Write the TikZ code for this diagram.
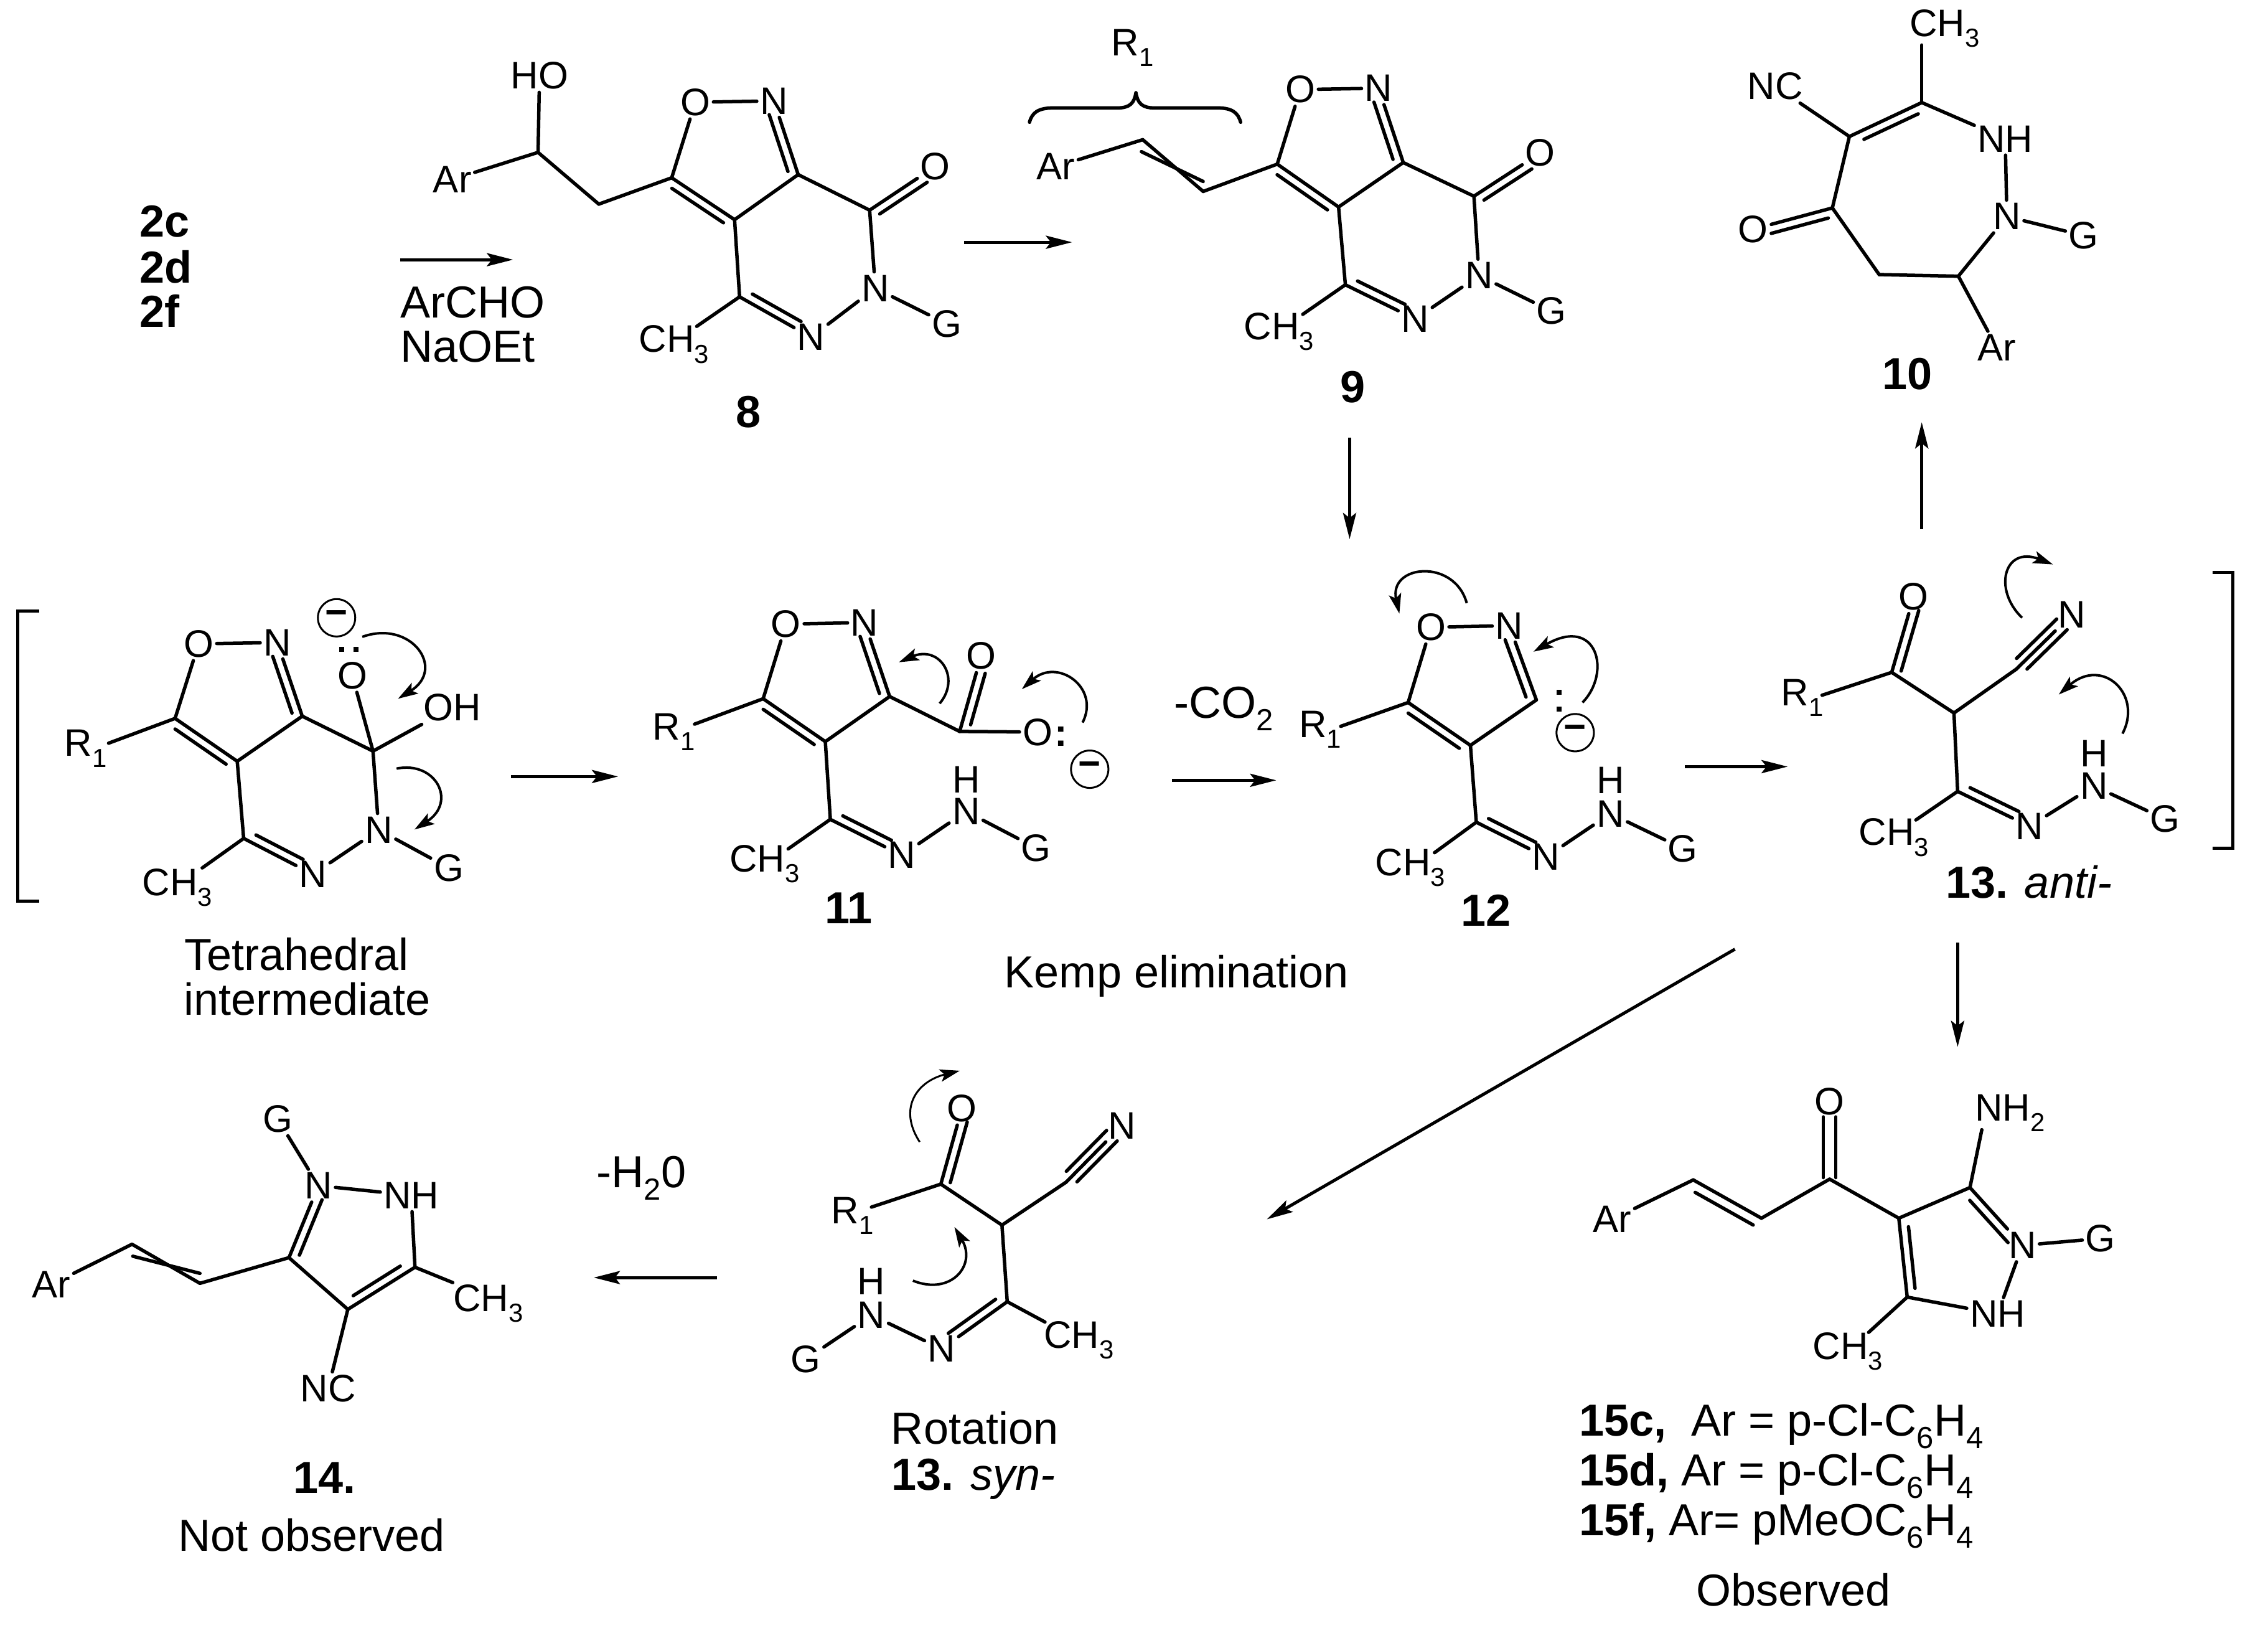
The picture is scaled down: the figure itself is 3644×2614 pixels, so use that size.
\documentclass[tikz,border=0pt]{standalone}
\usepackage{graphicx}
\usepackage{fontspec}
\setmainfont{Liberation Sans}
\usetikzlibrary{calc,arrows.meta}
\newcommand{\dn}[1]{\raisebox{-0.28em}{\scalebox{0.68}{#1}}}
\newcommand{\dbl}[5]{\draw[bond] (#1)--(#2);
 \draw[bond] ($(#1)!#4!(#2)!0.14cm!#3:(#2)$)--($(#1)!#5!(#2)!0.14cm!#3:(#2)$);}
\newcommand{\dblc}[5]{\draw[bond] (#1)--(#2);
 \draw[bond] ($(#1)!#4!(#2)!0.16cm!#3:(#2)$)--($(#1)!#5!(#2)!0.16cm!#3:(#2)$);}
\newcommand{\dsym}[4]{%
 \draw[bond] ($(#1)!#3!(#2)!0.1cm!90:(#2)$)--($(#1)!#4!(#2)!0.1cm!90:(#2)$);
 \draw[bond] ($(#1)!#3!(#2)!0.1cm!-90:(#2)$)--($(#1)!#4!(#2)!0.1cm!-90:(#2)$);}
\newcommand{\tpl}[2]{\draw[bond] (#1)--(#2);
 \draw[bond] ($(#1)!.1!(#2)!0.12cm!90:(#2)$)--($(#1)!.82!(#2)!0.12cm!90:(#2)$);
 \draw[bond] ($(#1)!.1!(#2)!0.12cm!-90:(#2)$)--($(#1)!.82!(#2)!0.12cm!-90:(#2)$);}
\tikzset{
 bond/.style={line width=.055cm,line cap=round,line join=round},
 atom/.style={inner sep=.045cm,font=\fontsize{17.5}{20}\selectfont},
 lab/.style={inner sep=0pt,font=\fontsize{20.5}{24}\selectfont},
 blab/.style={inner sep=0pt,font=\fontsize{20.5}{24}\selectfont\bfseries},
 rxn/.style={line width=.05cm,-{Stealth[length=.42cm,width=.21cm,inset=.08cm]}},
 curly/.style={line width=.04cm,-{Stealth[length=.32cm,width=.2cm,inset=.07cm]}},
 neg/.style={circle,draw,line width=.03cm,minimum size=.6cm,inner sep=0pt,font=\fontsize{17.6}{20}\selectfont\bfseries},
 dotm/.style={rectangle,fill=black,inner sep=0pt,minimum size=.08cm},
 zA/.style={x=.01148cm,y=-.0051cm},
 zB/.style={x=.01367cm,y=-.0051cm,shift={(15cm,0cm)}},
 zC/.style={x=.01148cm,y=-.0051cm,shift={(0cm,-9cm)}},
 zD/.style={x=.01176cm,y=-.0051cm,shift={(18cm,-8.5cm)}},
 zE/.style={x=.01212cm,y=-.00615cm,shift={(0cm,-16.5cm)}},
 zF/.style={x=.00793cm,y=-.00615cm,shift={(24cm,-16.5cm)}},
}
\begin{document}
\begin{tikzpicture}[x=.01cm,y=-.01cm]
\useasboundingbox[fill=white] (0,0) rectangle (3644,2614);
% ---------- top left
\begin{scope}[zA]
\node[blab,anchor=west] (l2c) at (195,697) {2c};
\node[blab,anchor=west] (l2d) at (195,840) {2d};
\node[blab,anchor=west] (l2f) at (195,980) {2f};
\coordinate (a1s) at (560,818); \coordinate (a1e) at (718,818);
\draw[rxn] (a1s)--(a1e);
\node[lab,anchor=west] (r1) at (560,952) {ArCHO};
\node[lab,anchor=west] (r2) at (560,1092) {NaOEt};
\node[atom] (hHO) at (755,238) {HO};
\node[atom] (hAr) at (633,565) {Ar};
\coordinate (hC) at (753,480); \coordinate (hCH) at (838,643);
\coordinate (hC5) at (940,560); \coordinate (hC3) at (1117,550); \coordinate (hC3a) at (1028,692);
\coordinate (hCO) at (1217,662); \coordinate (hC4) at (1035,935); \coordinate (hMb) at (975,1028);
\node[atom] (hO1) at (973,322) {O}; \node[atom] (hN2) at (1083,318) {N};
\node[atom] (hO) at (1309,524) {O}; \node[atom] (hN) at (1225,908) {N};
\node[atom] (hG) at (1325,1020) {G}; \node[atom] (hNp) at (1135,1062) {N};
\node[atom] (hMe) at (943,1085) {CH\dn{3}};
\node[blab] (l8) at (1047,1298) {8};
\draw[bond] (hHO)--(hC); \draw[bond] (hAr)--(hC); \draw[bond] (hC)--(hCH); \draw[bond] (hCH)--(hC5);
\draw[bond] (hC5)--(hO1); \draw[bond] (hO1)--(hN2); \dbl{hC3}{hN2}{90}{.08}{.85}
\dbl{hC5}{hC3a}{-90}{.08}{.9} \draw[bond] (hC3a)--(hC3); \draw[bond] (hC3)--(hCO);
\dbl{hCO}{hO}{-90}{.08}{.8} \draw[bond] (hCO)--(hN); \draw[bond] (hN)--(hG); \draw[bond] (hN)--(hNp);
\dbl{hC4}{hNp}{90}{.12}{.8} \draw[bond] (hC3a)--(hC4); \draw[bond] (hC4)--(hMb);
\end{scope}
% ---------- compound 9, 10
\begin{scope}[zB]
\coordinate (a2s) at (35,763); \coordinate (a2e) at (162,763);
\draw[rxn] (a2s)--(a2e);
\draw[bond] (112,385) .. controls (115,355) and (122,340) .. (140,340) -- (215,340) .. controls (230,340) and (235,325) .. (237,292) .. controls (239,325) and (244,340) .. (259,340) -- (333,340) .. controls (350,340) and (357,355) .. (360,385);
\node[atom] (iR) at (233,150) {R\dn{1}};
\node[atom] (iAr) at (143,525) {Ar};
\coordinate (iC1) at (245,440); \coordinate (iC2) at (316,603); \coordinate (iC5) at (403,517);
\coordinate (iC3) at (551,512); \coordinate (iC3a) at (475,652); \coordinate (iCO) at (634,618); \coordinate (iC4) at (483,897); \coordinate (iMb) at (433,990);
\node[atom] (iO1) at (430,282) {O}; \node[atom] (iN2) at (522,278) {N};
\node[atom] (iO) at (712,482) {O}; \node[atom] (iN) at (640,868) {N};
\node[atom] (iG) at (725,980) {G}; \node[atom] (iNp) at (565,1005) {N};
\node[atom] (iMe) at (405,1045) {CH\dn{3}};
\node[blab] (l9) at (492,1220) {9};
\draw[bond] (iAr)--(iC1); \dblc{iC1}{iC2}{-90}{.085}{1.0} \draw[bond] (iC2)--(iC5);
\draw[bond] (iC5)--(iO1); \draw[bond] (iO1)--(iN2); \dbl{iC3}{iN2}{90}{.08}{.85}
\dbl{iC5}{iC3a}{-90}{.08}{.9} \draw[bond] (iC3a)--(iC3); \draw[bond] (iC3)--(iCO);
\dbl{iCO}{iO}{-90}{.08}{.8} \draw[bond] (iCO)--(iN); \draw[bond] (iN)--(iG); \draw[bond] (iN)--(iNp);
\dbl{iC4}{iNp}{90}{.12}{.8} \draw[bond] (iC3a)--(iC4); \draw[bond] (iC4)--(iMb);
\coordinate (a3s) at (488,1378);
% 10
\node[atom] (jMe) at (1187,90) {CH\dn{3}};
\coordinate (jMb) at (1160,142);
\coordinate (jC1) at (1160,323); \coordinate (jC2) at (1075,430); \coordinate (jCO) at (1055,655);
\coordinate (jCH) at (1110,865); \coordinate (jCA) at (1203,870);
\node[atom] (jNH) at (1258,437) {NH}; \node[atom] (jN) at (1260,682) {N};
\node[atom] (jG) at (1350,742) {G}; \node[atom] (jAr) at (1248,1095) {Ar};
\node[atom] (jO) at (962,722) {O}; \node[atom] (jNC) at (988,272) {NC};
\node[blab] (l10) at (1143,1178) {10};
\draw[bond] (jMb)--(jC1); \draw[bond] (jC1)--(jNH); \draw[bond] (jNH)--(jN); \draw[bond] (jN)--(jG);
\draw[bond] (jN)--(jCA); \draw[bond] (jCA)--(jAr); \draw[bond] (jCA)--(jCH); \draw[bond] (jCH)--(jCO);
\dbl{jCO}{jO}{90}{.08}{.8} \draw[bond] (jCO)--(jC2); \dbl{jC2}{jC1}{-90}{.15}{.9} \draw[bond] (jC2)--(jNC);
\coordinate (a4e) at (1160,1330);
\end{scope}
% ---------- Tetrahedral, 11
\begin{scope}[zC]
\draw[line width=.05cm] (55,158)--(25,158)--(25,1073)--(55,1073);
\node[atom] (tR) at (120,592) {R\dn{1}};
\coordinate (tC5) at (245,497); \coordinate (tC3) at (423,490); \coordinate (tC3a) at (332,632);
\coordinate (tCq) at (522,600); \coordinate (tC4) at (341,875); \coordinate (tMb) at (283,968); \coordinate (tRb) at (152,575);
\node[atom] (tO1) at (278,262) {O}; \node[atom] (tN2) at (388,258) {N};
\node[atom] (tO) at (493,362) {O}; \node[atom] (tOH) at (633,463) {OH};
\node[atom] (tN) at (530,848) {N}; \node[atom] (tG) at (628,968) {G};
\node[atom] (tNp) at (438,988) {N}; \node[atom] (tMe) at (248,1030) {CH\dn{3}};
\node[neg] (tneg) at (471,180) {−};
\node[dotm] (td1) at (478,280) {}; \node[dotm] (td2) at (498,280) {};
\draw[bond] (tRb)--(tC5); \draw[bond] (tC5)--(tO1); \draw[bond] (tO1)--(tN2); \dbl{tC3}{tN2}{90}{.08}{.85}
\dbl{tC5}{tC3a}{-90}{.08}{.9} \draw[bond] (tC3a)--(tC3); \draw[bond] (tC3)--(tCq);
\draw[bond] (tCq)--(tO); \draw[bond] (tCq)--(tOH); \draw[bond] (tCq)--(tN); \draw[bond] (tN)--(tG); \draw[bond] (tN)--(tNp);
\dbl{tC4}{tNp}{90}{.12}{.8} \draw[bond] (tC3a)--(tC4); \draw[bond] (tC4)--(tMb);
\coordinate (c1s) at (507,240); \coordinate (c1e) at (557,435);
\draw[curly] (c1s) .. controls (575,185) and (625,340) .. (c1e);
\coordinate (c2s) at (555,655); \coordinate (c2e) at (580,847);
\draw[curly] (c2s) .. controls (610,630) and (640,760) .. (c2e);
\node[lab] (lT) at (415,1240) {Tetrahedral};
\node[lab] (lI) at (430,1380) {intermediate};
\coordinate (a5s) at (715,680); \coordinate (a5e) at (865,680);
\draw[rxn] (a5s)--(a5e);
% 11
\node[atom] (kR) at (943,540) {R\dn{1}};
\coordinate (kC5) at (1068,435); \coordinate (kC3) at (1245,428); \coordinate (kC3a) at (1155,570);
\coordinate (kCO) at (1343,538); \coordinate (kC) at (1162,815); \coordinate (kMb) at (1103,908); \coordinate (kRb) at (972,515);
\node[atom] (kO1) at (1100,200) {O}; \node[atom] (kN2) at (1210,195) {N};
\node[atom] (kO) at (1373,300) {O}; \node[atom] (kOm) at (1452,540) {O};
\node[atom,inner sep=0pt] (kcol) at (1485,553) {\textbf{:}};
\node[neg] (kneg) at (1525,657) {−};
\node[atom] (kMe) at (1070,955) {CH\dn{3}}; \node[atom] (kNp) at (1262,928) {N};
\node[atom] (kN) at (1352,790) {N}; \node[atom] (kH) at (1352,690) {H}; \node[atom] (kG) at (1450,905) {G};
\node[blab] (l11) at (1188,1095) {11};
\draw[bond] (kRb)--(kC5); \draw[bond] (kC5)--(kO1); \draw[bond] (kO1)--(kN2); \dbl{kC3}{kN2}{90}{.08}{.85}
\dbl{kC5}{kC3a}{-90}{.08}{.9} \draw[bond] (kC3a)--(kC3); \draw[bond] (kC3)--(kCO);
\dbl{kCO}{kO}{-90}{.12}{.8} \draw[bond] (kCO)--(kOm); \draw[bond] (kC3a)--(kC);
\dbl{kC}{kNp}{90}{.12}{.8} \draw[bond] (kC)--(kMb); \draw[bond] (kNp)--(kN); \draw[bond] (kN)--(kG);
\coordinate (c3s) at (1315,450); \coordinate (c3e) at (1258,320);
\draw[curly] (c3s) .. controls (1345,370) and (1315,265) .. (c3e);
\coordinate (c4s) at (1515,510); \coordinate (c4e) at (1430,405);
\draw[curly] (c4s) .. controls (1540,400) and (1480,305) .. (c4e);
\node[lab,anchor=base west] (lK) at (1405,1345) {Kemp elimination};
\end{scope}
% ---------- 12, 13 anti
\begin{scope}[zD]
\node[lab] (lco) at (140,565) {-CO\dn{2}};
\coordinate (a6s) at (70,790); \coordinate (a6e) at (212,790);
\draw[rxn] (a6s)--(a6e);
\node[atom] (mR) at (272,630) {R\dn{1}};
\coordinate (mC5) at (392,545); \coordinate (mC3) at (567,537); \coordinate (mC3a) at (477,680); \coordinate (mC) at (485,922); \coordinate (mMb) at (428,1018); \coordinate (mRb) at (300,620);
\node[atom] (mO1) at (423,308) {O}; \node[atom] (mN2) at (530,303) {N};
\node[dotm] (md1) at (598,513) {}; \node[dotm] (md2) at (598,565) {};
\node[neg] (mneg) at (620,640) {−};
\node[atom] (mMe) at (395,1065) {CH\dn{3}}; \node[atom] (mNp) at (580,1032) {N};
\node[atom] (mN) at (668,895) {N}; \node[atom] (mH) at (668,790) {H}; \node[atom] (mG) at (767,1005) {G};
\node[blab] (l12) at (498,1200) {12};
\draw[bond] (mRb)--(mC5); \draw[bond] (mC5)--(mO1); \draw[bond] (mO1)--(mN2); \dbl{mC3}{mN2}{90}{.08}{.85}
\dbl{mC5}{mC3a}{-90}{.08}{.9} \draw[bond] (mC3a)--(mC3); \draw[bond] (mC3a)--(mC);
\dbl{mC}{mNp}{90}{.12}{.8} \draw[bond] (mC)--(mMb); \draw[bond] (mNp)--(mN); \draw[bond] (mN)--(mG);
\coordinate (c5s) at (472,232); \coordinate (c5e) at (380,265);
\draw[curly] (c5s) .. controls (455,90) and (365,110) .. (c5e);
\coordinate (c6s) at (630,545); \coordinate (c6e) at (563,385);
\draw[curly] (c6s) .. controls (670,450) and (650,270) .. (c6e);
\coordinate (a7s) at (770,747); \coordinate (a7e) at (910,747);
\draw[rxn] (a7s)--(a7e);
\node[atom] (nR) at (930,530) {R\dn{1}};
\coordinate (nCO) at (1052,450); \coordinate (nCH) at (1137,578); \coordinate (nCN) at (1222,440); \coordinate (nC) at (1142,825); \coordinate (nMb) at (1085,915); \coordinate (nRb) at (957,522);
\node[atom] (nO) at (1082,212) {O}; \node[atom] (nNt) at (1298,268) {N};
\node[atom] (nMe) at (1055,970) {CH\dn{3}}; \node[atom] (nNp) at (1240,935) {N};
\node[atom] (nN) at (1328,808) {N}; \node[atom] (nH) at (1328,705) {H}; \node[atom] (nG) at (1425,912) {G};
\node[lab,anchor=west] (l13) at (1125,1110) {\textbf{13.} \textit{anti-}};
\draw[bond] (nRb)--(nCO); \dbl{nCO}{nO}{-90}{.05}{.85} \draw[bond] (nCO)--(nCH); \draw[bond] (nCH)--(nCN); \tpl{nCN}{nNt}
\draw[bond] (nCH)--(nC); \dbl{nC}{nNp}{90}{.12}{.8} \draw[bond] (nC)--(nMb); \draw[bond] (nNp)--(nN); \draw[bond] (nN)--(nG);
\coordinate (c7s) at (1230,278); \coordinate (c7e) at (1272,110);
\draw[curly] (c7s) .. controls (1190,190) and (1205,50) .. (c7e);
\coordinate (c8s) at (1367,643); \coordinate (c8e) at (1280,520);
\draw[curly] (c8s) .. controls (1395,520) and (1340,400) .. (c8e);
\draw[line width=.05cm] (1490,135)--(1518,135)--(1518,1005)--(1490,1005);
\coordinate (a8s) at (1142,1302);
\coordinate (a9s) at (838,1322);
\end{scope}
% ---------- 14, 13 syn
\begin{scope}[zE]
\node[atom] (pG) at (368,238) {G}; \node[atom] (pN) at (422,412) {N}; \node[atom] (pNH) at (545,437) {NH};
\coordinate (pC5) at (550,625); \coordinate (pC4) at (461,735); \coordinate (pC3) at (383,600);
\coordinate (pC2) at (265,667); \coordinate (pC1) at (175,565); \coordinate (pMb) at (600,665);
\node[atom] (pMe) at (647,720) {CH\dn{3}}; \node[atom] (pNC) at (435,942) {NC}; \node[atom] (pAr) at (68,670) {Ar};
\node[blab] (l14) at (430,1175) {14.};
\node[lab] (lNo) at (413,1325) {Not observed};
\draw[bond] (pG)--(pN); \draw[bond] (pN)--(pNH); \draw[bond] (pNH)--(pC5); \draw[bond] (pC5)--(pMb);
\dbl{pC4}{pC5}{90}{.15}{.85} \draw[bond] (pC4)--(pNC); \draw[bond] (pC4)--(pC3); \dbl{pC3}{pN}{-90}{.08}{.85}
\draw[bond] (pC3)--(pC2); \dblc{pC1}{pC2}{-90}{.085}{1.0} \draw[bond] (pC1)--(pAr);
\node[lab] (lh2o) at (850,392) {-H\dn{2}0};
\coordinate (a10s) at (950,652); \coordinate (a10e) at (787,652);
\draw[rxn] (a10s)--(a10e);
\node[atom] (qO) at (1275,210) {O}; \node[atom] (qR) at (1130,490) {R\dn{1}};
\coordinate (qCO) at (1247,408); \coordinate (qCH) at (1328,515); \coordinate (qCN) at (1413,403); \coordinate (qC) at (1335,715); \coordinate (qMb) at (1385,768); \coordinate (qRb) at (1155,468);
\node[atom] (qNt) at (1487,255) {N}; \node[atom] (qMe) at (1430,815) {CH\dn{3}};
\node[atom] (qNp) at (1248,838) {N}; \node[atom] (qN) at (1155,750) {N}; \node[atom] (qH) at (1155,662) {H}; \node[atom] (qG) at (1068,865) {G};
\node[lab] (lRot) at (1292,1045) {Rotation};
\node[lab] (l13s) at (1290,1178) {\textbf{13.} \textit{syn-}};
\draw[bond] (qRb)--(qCO); \dbl{qCO}{qO}{-90}{.05}{.85} \draw[bond] (qCO)--(qCH); \draw[bond] (qCH)--(qCN); \tpl{qCN}{qNt}
\draw[bond] (qCH)--(qC); \dbl{qC}{qNp}{-90}{.1}{.82} \draw[bond] (qC)--(qMb); \draw[bond] (qNp)--(qN); \draw[bond] (qN)--(qG);
\coordinate (c9s) at (1219,298); \coordinate (c9e) at (1272,112);
\draw[curly,line width=.03cm] (c9s) .. controls (1190,210) and (1215,140) .. (c9e);
\coordinate (c10s) at (1210,660); \coordinate (c10e) at (1265,520);
\draw[curly,line width=.04cm] (c10s) .. controls (1260,700) and (1295,620) .. (c10e);
\coordinate (a9e) at (1679,500);
\end{scope}
% ---------- 15
\begin{scope}[zF]
\node[atom] (sO) at (678,192) {O}; \node[atom] (sAr) at (238,500) {Ar};
\coordinate (sCO) at (678,395); \coordinate (sC1) at (402,397); \coordinate (sC2) at (540,497);
\coordinate (sC4) at (818,497); \coordinate (sC3) at (962,417); \coordinate (sC5) at (835,703);
\coordinate (sNb) at (986,266); \coordinate (sMb) at (757,795);
\node[atom,anchor=west] (sNH2) at (966,223) {NH\dn{2}}; \node[atom] (sN) at (1068,568) {N}; \node[atom] (sG) at (1226,550) {G};
\node[atom] (sNH) at (1018,747) {NH}; \node[atom] (sMe) at (715,845) {CH\dn{3}};
\draw[bond] (sAr)--(sC1); \dblc{sC1}{sC2}{-90}{.1}{.95} \draw[bond] (sC2)--(sCO);
\dsym{sCO}{sO}{.02}{.8} \draw[bond] (sCO)--(sC4); \draw[bond] (sC4)--(sC3);
\draw[bond] (sC3)--(sNb);
\dbl{sC3}{sN}{-90}{.12}{.85} \draw[bond] (sN)--(sG); \draw[bond] (sN)--(sNH); \draw[bond] (sNH)--(sC5);
\dbl{sC5}{sC4}{-90}{.1}{.88} \draw[bond] (sC5)--(sMb);
\coordinate (a8e) at (937,50);
\node[lab,anchor=west] (t1) at (170,1040) {\textbf{15c,}\ \ Ar = p-Cl-C\dn{6}H\dn{4}};
\node[lab,anchor=west] (t2) at (170,1170) {\textbf{15d,} Ar = p-Cl-C\dn{6}H\dn{4}};
\node[lab,anchor=west] (t3) at (170,1300) {\textbf{15f,} Ar= pMeOC\dn{6}H\dn{4}};
\node[lab] (t4) at (605,1467) {Observed};
\end{scope}
% ---------- long connectors
\coordinate (a3e) at (a3s |- 0,866);
\draw[rxn] (a3s)--(a3e);
\coordinate (a4s) at (a4e |- 0,850);
\draw[rxn] (a4s)--(a4e);
\coordinate (a8x) at (a8s |- a8e);
\draw[rxn] (a8s)--(a8x);
\draw[rxn] (a9s)--(a9e);
\end{tikzpicture}
\end{document}
